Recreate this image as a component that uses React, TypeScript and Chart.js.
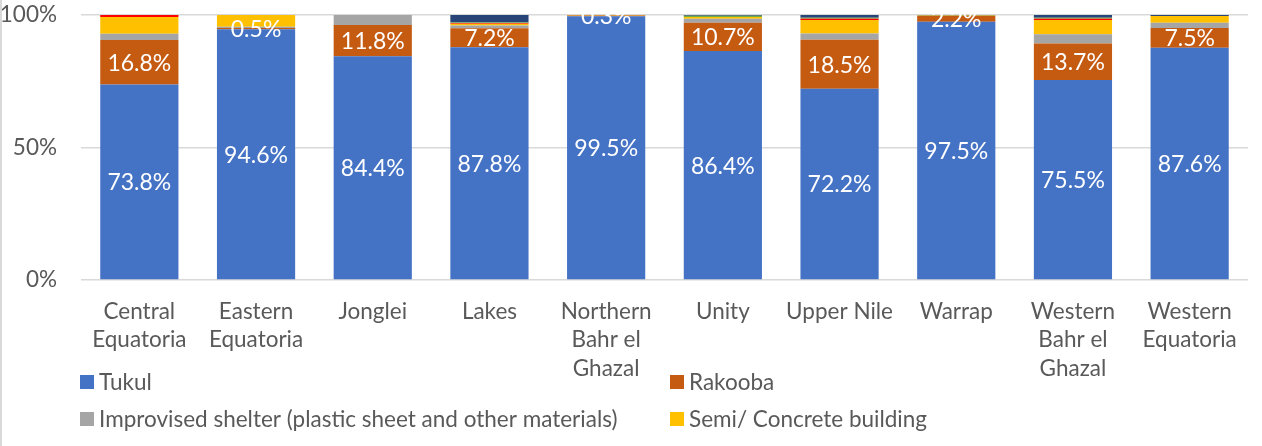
import React, { useEffect, useRef } from "react";
import { Chart, registerables } from "chart.js";

Chart.register(...registerables);

const categories: string[][] = [
  ["Central", "Equatoria"],
  ["Eastern", "Equatoria"],
  ["Jonglei"],
  ["Lakes"],
  ["Northern", "Bahr el", "Ghazal"],
  ["Unity"],
  ["Upper Nile"],
  ["Warrap"],
  ["Western", "Bahr el", "Ghazal"],
  ["Western", "Equatoria"],
];

const tukul = [73.8, 94.6, 84.4, 87.8, 99.5, 86.4, 72.2, 97.5, 75.5, 87.6];
const rakooba = [16.8, 0.5, 11.8, 7.2, 0.3, 10.7, 18.5, 2.2, 13.7, 7.5];
const improvised = [2.3, 0.5, 3.8, 1.0, 0, 1.5, 2.3, 0, 3.5, 2.0];
const semiConcrete = [6.3, 4.4, 0, 0.7, 0.2, 0.6, 5.1, 0.1, 5.4, 2.5];
const otherRed = [0.8, 0, 0, 0.3, 0, 0, 0.5, 0, 0.5, 0];
const otherGreen = [0, 0, 0, 0.2, 0, 0.5, 0.4, 0.2, 0.4, 0];
const otherNavy = [0, 0, 0, 2.8, 0, 0.3, 1.0, 0, 1.0, 0.4];

const yTicks = [0, 50, 100];

const FONT = "Lato";
const TEXT_COLOR = "#595959";

const labelPlugin = {
  id: "segmentLabels",
  afterDatasetsDraw(chart: any) {
    const ctx = chart.ctx;
    ctx.save();
    ctx.font = `23px ${FONT}`;
    ctx.fillStyle = "#FFFFFF";
    ctx.textAlign = "center";
    ctx.textBaseline = "middle";
    [0, 1].forEach((di) => {
      const meta = chart.getDatasetMeta(di);
      const ds = chart.data.datasets[di];
      meta.data.forEach((el: any, i: number) => {
        const v = ds.data[i] as number;
        if (!v) return;
        const { x, y, base } = el.getProps(["x", "y", "base"], true);
        ctx.fillText(v.toFixed(1) + "%", x, (y + base) / 2 + 1);
      });
    });
    ctx.restore();
  },
};

const legendPlugin = {
  id: "gridLegend",
  afterDraw(chart: any) {
    const ctx = chart.ctx;
    ctx.save();
    ctx.strokeStyle = "#D9D9D9";
    ctx.lineWidth = 2;
    ctx.beginPath();
    ctx.moveTo(1, 0);
    ctx.lineTo(1, chart.height);
    ctx.stroke();

    const cols = [80, 670];
    const rows = [382, 419];
    ctx.font = `22.5px ${FONT}`;
    ctx.textBaseline = "middle";
    ctx.textAlign = "left";
    for (let i = 0; i < 4; i++) {
      const ds = chart.data.datasets[i];
      const x = cols[i % 2];
      const y = rows[Math.floor(i / 2)];
      ctx.fillStyle = ds.backgroundColor;
      ctx.fillRect(x, y - 7, 14, 14);
      ctx.fillStyle = TEXT_COLOR;
      ctx.fillText(ds.label, x + 19, y + 1);
    }
    ctx.restore();
  },
};

export default function App() {
  const ref = useRef<HTMLCanvasElement | null>(null);

  useEffect(() => {
    document.body.style.margin = "0";
    if (!ref.current) return;
    const mk = (label: string, data: number[], color: string) => ({
      label,
      data,
      backgroundColor: color,
      borderWidth: 0,
      barPercentage: 0.67,
      categoryPercentage: 1,
    });
    const chart = new Chart(ref.current, {
      type: "bar",
      data: {
        labels: categories,
        datasets: [
          mk("Tukul", tukul, "#4472C4"),
          mk("Rakooba", rakooba, "#C55A11"),
          mk("Improvised shelter (plastic sheet and other materials)", improvised, "#A5A5A5"),
          mk("Semi/ Concrete building", semiConcrete, "#FFC000"),
          mk("Other (red)", otherRed, "#FF0000"),
          mk("Other (green)", otherGreen, "#70AD47"),
          mk("Other (navy)", otherNavy, "#264478"),
        ],
      },
      options: {
        animation: false,
        responsive: true,
        maintainAspectRatio: false,
        layout: { padding: { top: 15, right: 14, left: 0, bottom: 0 } },
        plugins: {
          legend: { display: false },
          tooltip: { enabled: false },
        },
        scales: {
          x: {
            stacked: true,
            grid: { display: false, drawTicks: false },
            border: { display: false },
            ticks: {
              color: TEXT_COLOR,
              font: { family: FONT, size: 22.5, lineHeight: 1.27 },
              padding: 17,
              maxRotation: 0,
              minRotation: 0,
              autoSkip: false,
            },
            afterFit(scale: any) {
              scale.height = 166;
              scale.paddingLeft = 0;
              scale.paddingRight = 0;
            },
          },
          y: {
            stacked: true,
            min: 0,
            max: 100,
            afterBuildTicks(scale: any) {
              scale.ticks = yTicks.map((v) => ({ value: v }));
            },
            grid: { color: "#D9D9D9", lineWidth: 1.5, drawTicks: false },
            border: { display: false },
            ticks: {
              color: TEXT_COLOR,
              font: { family: FONT, size: 22.5 },
              padding: 24,
              callback: (v: any) => v + "%",
            },
            afterFit(scale: any) {
              scale.width = 81;
              scale.paddingTop = 0;
              scale.paddingBottom = 0;
            },
          },
        },
      },
      plugins: [labelPlugin, legendPlugin],
    });
    return () => chart.destroy();
  }, []);

  return (
    <div style={{ width: 1262, height: 446, position: "relative", background: "#fff" }}>
      <canvas ref={ref} />
    </div>
  );
}
